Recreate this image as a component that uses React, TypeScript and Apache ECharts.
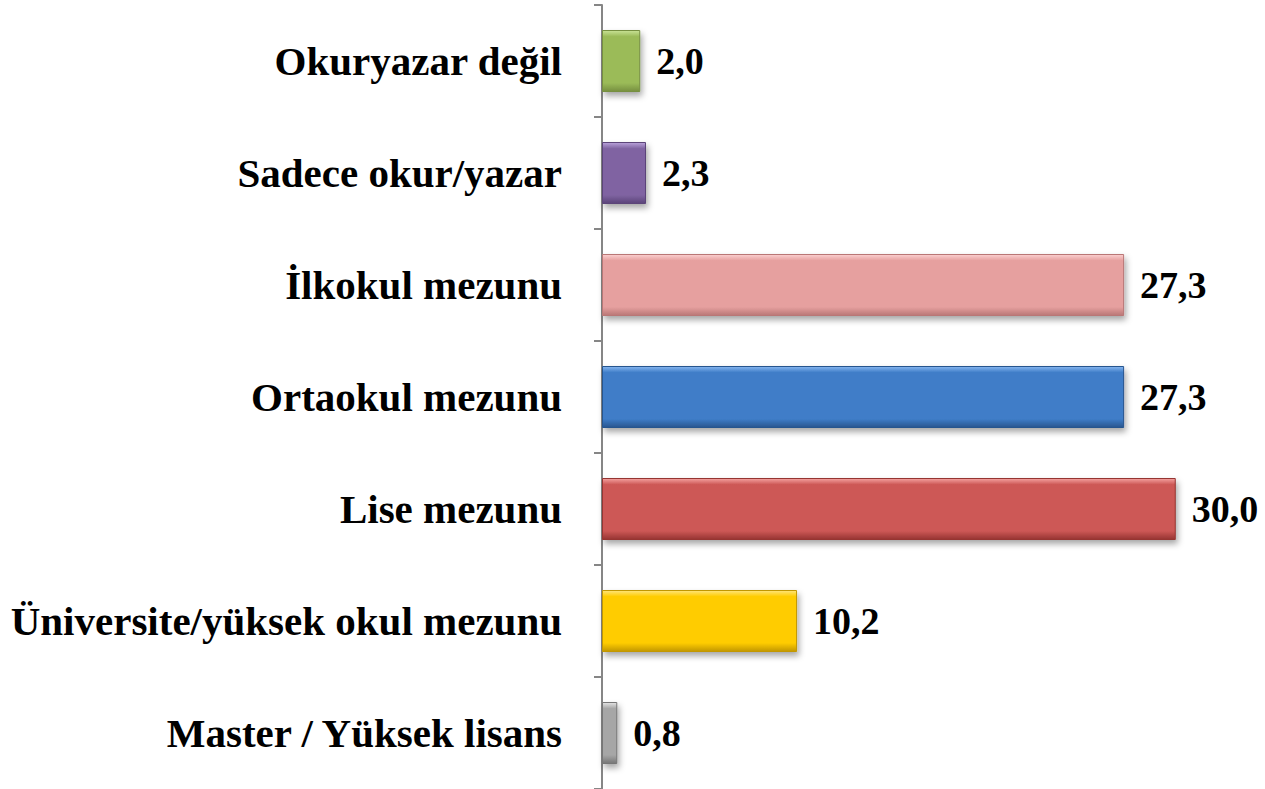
import React, { useEffect, useRef } from "react";
import * as echarts from "echarts";

const categories = [
  "Okuryazar değil",
  "Sadece okur/yazar",
  "İlkokul mezunu",
  "Ortaokul mezunu",
  "Lise mezunu",
  "Üniversite/yüksek okul mezunu",
  "Master / Yüksek lisans",
];
const values = [2.0, 2.3, 27.3, 27.3, 30.0, 10.2, 0.8];
const barColors = [
  ["#C9E296", "#9BBB59", "#768F3F"],
  ["#B9A2DA", "#8064A2", "#5B4479"],
  ["#FBD0D0", "#E6A09F", "#B97776"],
  ["#86B6F0", "#3F7DC8", "#28558E"],
  ["#F4A2A0", "#CD5856", "#963432"],
  ["#FFE57A", "#FFCC00", "#C29700"],
  ["#E4E4E4", "#A6A6A6", "#767676"],
];

const FONT = "'Liberation Serif', 'DejaVu Serif', serif";

export default function App() {
  const ref = useRef<HTMLDivElement>(null);
  useEffect(() => {
    if (!ref.current) return;
    const chart = echarts.init(ref.current, null, { renderer: "svg" });
    const data = values.map((v, i) => ({
      value: v,
      itemStyle: {
        color: {
          type: "linear",
          x: 0,
          y: 0,
          x2: 0,
          y2: 1,
          colorStops: [
            { offset: 0, color: barColors[i][0] },
            { offset: 0.1, color: barColors[i][1] },
            { offset: 0.86, color: barColors[i][1] },
            { offset: 1, color: barColors[i][2] },
          ],
        },
        borderColor: barColors[i][2],
        borderWidth: 1,
        shadowColor: "rgba(0,0,0,0.35)",
        shadowBlur: 6,
        shadowOffsetX: 2,
        shadowOffsetY: 4,
      },
    }));
    chart.setOption({
      animation: false,
      grid: {
        left: 602,
        top: 5,
        height: 784,
        width: 612,
        containLabel: false,
        outerBoundsMode: "none",
      },
      xAxis: {
        type: "value",
        min: 0,
        max: 32,
        show: false,
      },
      yAxis: {
        type: "category",
        data: categories,
        inverse: true,
        axisLine: { show: true, lineStyle: { color: "#868686", width: 2 } },
        axisTick: { show: true, length: 8, lineStyle: { color: "#868686", width: 2 } },
        axisLabel: {
          margin: 40,
          color: "#000",
          fontFamily: FONT,
          fontWeight: "bold",
          fontSize: 41,
        },
        splitLine: { show: false },
      },
      series: [
        {
          type: "bar",
          data,
          barWidth: 62,
          label: {
            show: true,
            position: "right",
            distance: 16,
            color: "#000",
            fontFamily: FONT,
            fontWeight: "bold",
            fontSize: 38,
            formatter: (p: any) => p.value.toFixed(1).replace(".", ","),
          },
        },
      ],
    });
    return () => chart.dispose();
  }, []);
  return (
    <div
      ref={ref}
      style={{ position: "fixed", left: 0, top: 0, width: 1265, height: 789, background: "#fff" }}
    />
  );
}
